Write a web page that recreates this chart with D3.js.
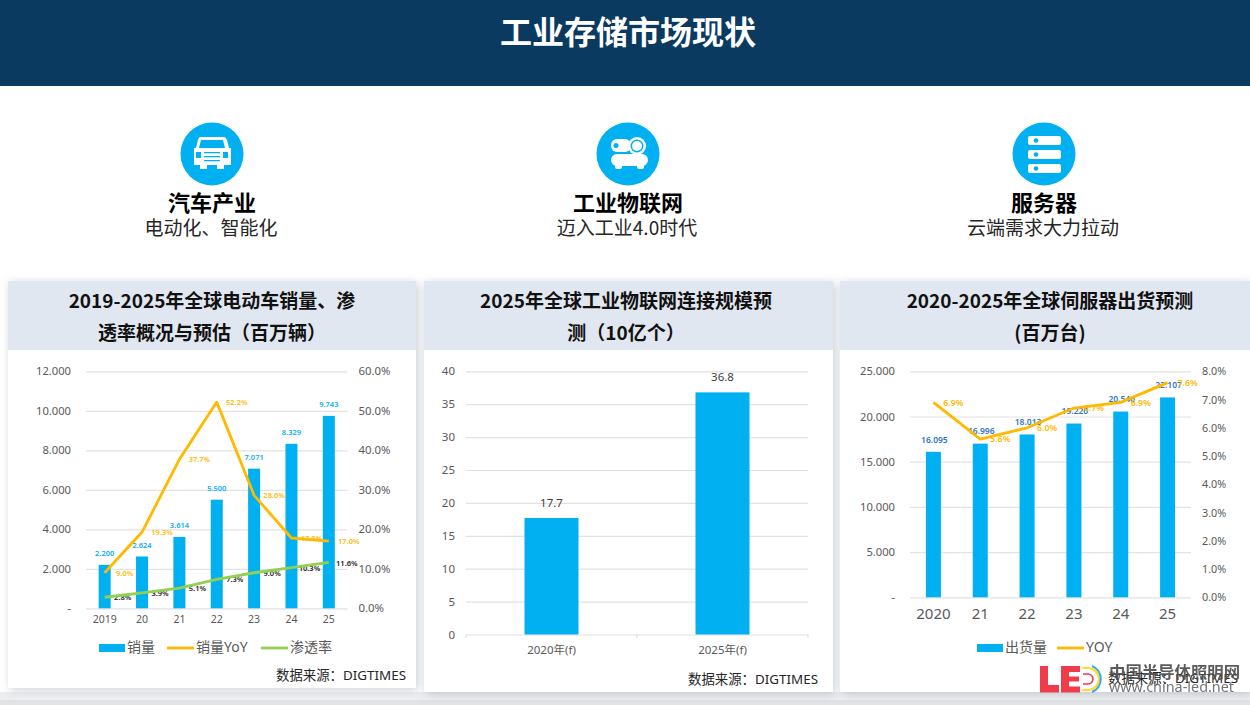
<!DOCTYPE html>
<html>
<head>
<meta charset="utf-8">
<script src="https://cdn.jsdelivr.net/npm/d3@7"></script>
<style>
  html, body { margin: 0; padding: 0; background: #fff; overflow: hidden; }
  text { font-family: "Noto Sans", "Noto Sans CJK SC", sans-serif; }
  .cjk { font-family: "Noto Sans CJK SC", "Noto Sans", sans-serif; }
</style>
</head>
<body>
<svg id="page" width="1250" height="705"></svg>
<script>
// chart 1: electric cars
const evYears = ["2019", "20", "21", "22", "23", "24", "25"];
const evSales = [2200, 2624, 3614, 5500, 7071, 8329, 9743];
const evYoy = [9.0, 19.3, 37.7, 52.2, 28.6, 17.8, 17.0];
const evShare = [2.8, 3.9, 5.1, 7.3, 9.0, 10.3, 11.6];
const evLeftTicks = [0, 2000, 4000, 6000, 8000, 10000, 12000];
const evRightTicks = [0, 10, 20, 30, 40, 50, 60];

// chart 2: industrial iot
const iotYears = ["2020年(f)", "2025年(f)"];
const iotValues = [17.7, 36.8];
const iotTicks = [0, 5, 10, 15, 20, 25, 30, 35, 40];

// chart 3: servers
const srvYears = ["2020", "21", "22", "23", "24", "25"];
const srvShip = [16095, 16996, 18013, 19220, 20546, 22107];
const srvYoy = [6.9, 5.6, 6.0, 6.7, 6.9, 7.6];
const srvLeftTicks = [0, 5000, 10000, 15000, 20000, 25000];
const srvRightTicks = [0, 1, 2, 3, 4, 5, 6, 7, 8];

const BLUE = "#00b0f0", YELLOW = "#ffb900", GREEN = "#92d050", GREY = "#595959", GRID = "#e2e2e2";

const svg = d3.select("#page");

const dotted = d3.formatLocale({ decimal: ",", thousands: ".", grouping: [3], currency: ["", ""] }).format(",.0f");
const fmtValue = d => (d === 0 ? "-" : dotted(d));
const fmtPct = d => d.toFixed(1) + "%";

// background and shadows
const defs = svg.append("defs");
const shadow = defs.append("filter").attr("id", "shadow")
  .attr("x", "-5%").attr("y", "-5%").attr("width", "110%").attr("height", "110%");
shadow.append("feDropShadow").attr("dx", 2).attr("dy", 2).attr("stdDeviation", 5)
  .attr("flood-color", "#8a93a0").attr("flood-opacity", 0.45);

svg.append("rect").attr("width", 1250).attr("height", 705).attr("fill", "#fff");
svg.append("rect").attr("y", 692).attr("width", 1250).attr("height", 13).attr("fill", "#eceef0");
svg.append("rect").attr("y", 700).attr("width", 1250).attr("height", 5).attr("fill", "#e0e2e5");
svg.append("rect").attr("width", 1250).attr("height", 86).attr("fill", "#0b3a60");
svg.append("text").attr("class", "cjk").attr("x", 628).attr("y", 44)
  .attr("text-anchor", "middle").attr("fill", "#fff")
  .attr("font-size", 32).attr("font-weight", 700).text("工业存储市场现状");

// icons and captions
const sections = [
  { cx: 212, title: "汽车产业", sub: "电动化、智能化", icon: carIcon },
  { cx: 628, title: "工业物联网", sub: "迈入工业4.0时代", icon: projectorIcon },
  { cx: 1044, title: "服务器", sub: "云端需求大力拉动", icon: serverIcon }
];
sections.forEach(s => {
  const g = svg.append("g").attr("transform", `translate(${s.cx},154)`);
  g.append("circle").attr("r", 31.5).attr("fill", BLUE);
  s.icon(g);
  svg.append("text").attr("class", "cjk").attr("x", s.cx).attr("y", 211)
    .attr("text-anchor", "middle").attr("font-size", 22).attr("font-weight", 700)
    .attr("fill", "#000").text(s.title);
  svg.append("text").attr("class", "cjk").attr("x", s.cx - 1).attr("y", 235)
    .attr("text-anchor", "middle").attr("font-size", 19).attr("fill", "#262626").text(s.sub);
});

function carIcon(g) {
  g.append("path").attr("fill", "#fff")
    .attr("d", "M-12,-17 L12,-17 Q14,-17 15,-14 L17,-6 L19,-6 L19,11 L12,11 L12,15 L5,15 L5,11 L-5,11 L-5,15 L-12,15 L-12,11 L-18,11 L-18,-6 L-16,-6 L-14,-14 Q-13,-17 -12,-17 Z");
  g.append("path").attr("fill", BLUE).attr("d", "M-11,-14 L11,-14 L13,-6 L-13,-6 Z");
  g.append("rect").attr("x", -16).attr("y", -2).attr("width", 5).attr("height", 6).attr("fill", BLUE);
  g.append("rect").attr("x", 11).attr("y", -2).attr("width", 5).attr("height", 6).attr("fill", BLUE);
  [-2, 2, 6].forEach(y => g.append("rect").attr("x", -8).attr("y", y).attr("width", 16).attr("height", 1.3).attr("fill", BLUE));
}

function projectorIcon(g) {
  g.append("rect").attr("x", -17).attr("y", -15).attr("width", 20).attr("height", 13).attr("rx", 6).attr("fill", "#fff");
  g.append("circle").attr("cx", -12).attr("cy", -8.5).attr("r", 2.5).attr("fill", BLUE);
  g.append("circle").attr("cx", 9).attr("cy", -8).attr("r", 9).attr("fill", "#fff");
  g.append("circle").attr("cx", 9).attr("cy", -8).attr("r", 6.5).attr("fill", BLUE);
  g.append("circle").attr("cx", 9).attr("cy", -8).attr("r", 5).attr("fill", "#fff");
  g.append("rect").attr("x", -17).attr("y", 0).attr("width", 37).attr("height", 12).attr("rx", 6).attr("fill", "#fff");
  g.append("rect").attr("x", -13).attr("y", 9).attr("width", 7).attr("height", 6).attr("rx", 2).attr("fill", "#fff");
  g.append("rect").attr("x", 9).attr("y", 9).attr("width", 7).attr("height", 6).attr("rx", 2).attr("fill", "#fff");
}

function serverIcon(g) {
  [-18, -4, 10].forEach(y => {
    g.append("rect").attr("x", -16).attr("y", y).attr("width", 33).attr("height", 9).attr("rx", 2).attr("fill", "#fff");
    g.append("circle").attr("cx", -8).attr("cy", y + 4.5).attr("r", 2.3).attr("fill", BLUE);
  });
}

// panels
const panels = [
  { x: 8, w: 408, bottom: 688, cx: 212, lines: ["2019-2025年全球电动车销量、渗", "透率概况与预估（百万辆）"] },
  { x: 424, w: 409, bottom: 692, cx: 626, lines: ["2025年全球工业物联网连接规模预", "测（10亿个）"] },
  { x: 840, w: 410, bottom: 692, cx: 1050, lines: ["2020-2025年全球伺服器出货预测", "(百万台)"] }
];
panels.forEach(p => {
  svg.append("rect").attr("x", p.x).attr("y", 281).attr("width", p.w).attr("height", p.bottom - 281)
    .attr("fill", "#fff").attr("filter", "url(#shadow)");
  svg.append("rect").attr("x", p.x).attr("y", 281).attr("width", p.w).attr("height", 69).attr("fill", "#e1e7f0");
  p.lines.forEach((line, i) => {
    svg.append("text").attr("class", "cjk").attr("x", p.cx).attr("y", 308 + i * 32)
      .attr("text-anchor", "middle").attr("font-size", 19).attr("font-weight", 700)
      .attr("fill", "#111").text(line);
  });
});

function styleAxis(g, size) {
  g.selectAll("text").attr("fill", GREY).attr("font-size", size);
  g.select(".domain").remove();
}

function leftAxis(y, ticks, fmt, x0, x1, size, pad) {
  const g = svg.append("g").attr("transform", `translate(${x0},0)`)
    .call(d3.axisLeft(y).tickValues(ticks).tickFormat(fmt).tickSize(-(x1 - x0)).tickPadding(pad));
  styleAxis(g, size);
  g.selectAll("line").attr("stroke", GRID).attr("stroke-width", 1.2);
}

function rightAxis(y, ticks, x1, size, pad) {
  const g = svg.append("g").attr("transform", `translate(${x1},0)`)
    .call(d3.axisRight(y).tickValues(ticks).tickFormat(fmtPct).tickSize(0).tickPadding(pad));
  styleAxis(g, size);
}

function bottomAxis(x, y0, size, pad) {
  const g = svg.append("g").attr("transform", `translate(0,${y0})`)
    .call(d3.axisBottom(x).tickSize(0).tickPadding(pad));
  styleAxis(g, size);
}

function bars(x, y, cats, vals, width) {
  svg.append("g").selectAll("rect").data(vals).join("rect")
    .attr("x", (d, i) => x(cats[i]) + x.bandwidth() / 2 - width / 2)
    .attr("y", d => y(d))
    .attr("width", width)
    .attr("height", d => y(0) - y(d))
    .attr("fill", BLUE);
}

function labels(xpos, ypos, vals, fmt, color, size, dx, dy, weight) {
  svg.append("g").selectAll("text").data(vals).join("text")
    .attr("x", (d, i) => xpos(i) + dx)
    .attr("y", d => ypos(d) + dy)
    .attr("text-anchor", "middle").attr("dominant-baseline", "middle")
    .attr("font-size", size).attr("font-weight", weight || 400).attr("fill", color).text(fmt);
}

function lineMark(xpos, y, vals, color) {
  const path = d3.line().x((d, i) => xpos(i)).y(d => y(d));
  svg.append("path").datum(vals).attr("d", path).attr("fill", "none")
    .attr("stroke", color).attr("stroke-width", 2.8).attr("stroke-linejoin", "round");
}

function legendBar(x, yc, label, size) {
  svg.append("rect").attr("x", x).attr("y", yc - 4).attr("width", 26).attr("height", 8).attr("fill", BLUE);
  legendText(x + 28, yc, label, size);
}

function legendLine(x, yc, label, color, size) {
  svg.append("line").attr("x1", x).attr("x2", x + 27).attr("y1", yc).attr("y2", yc)
    .attr("stroke", color).attr("stroke-width", 2.8);
  legendText(x + 29, yc, label, size);
}

function legendText(x, yc, label, size) {
  svg.append("text").attr("x", x).attr("y", yc).attr("dominant-baseline", "middle")
    .attr("font-size", size).attr("fill", GREY).text(label);
}

function source(xEnd, y) {
  svg.append("text").attr("x", xEnd).attr("y", y).attr("text-anchor", "end")
    .attr("font-size", 13.4).attr("fill", "#262626").text("数据来源：DIGTIMES");
}

// chart 1
{
  const x = d3.scaleBand().domain(evYears).range([86, 347.5]);
  const y = d3.scaleLinear().domain([0, 12000]).range([608.3, 371.3]);
  const yR = d3.scaleLinear().domain([0, 60]).range([608.3, 371.3]);
  const xpos = i => x(evYears[i]) + x.bandwidth() / 2;
  leftAxis(y, evLeftTicks, fmtValue, 86, 347.5, 11.2, 15);
  rightAxis(yR, evRightTicks, 347.5, 11.4, 11);
  bottomAxis(x, 608.3, 10.5, 7);
  bars(x, y, evYears, evSales, 12);
  labels(xpos, y, evSales, dotted, "#0aaef0", 7.5, 0, -11, 600);
  labels(xpos, yR, evYoy, fmtPct, YELLOW, 7.5, 20, 1, 600);
  labels(xpos, yR, evShare, fmtPct, "#1a1a1a", 7.5, 18, 1, 600);
  lineMark(xpos, yR, evYoy, YELLOW);
  lineMark(xpos, yR, evShare, GREEN);
  legendBar(99, 648, "销量", 14);
  legendLine(167, 648, "销量YoY", YELLOW, 14);
  legendLine(261, 648, "渗透率", GREEN, 14);
  source(406, 680);
}

// chart 2
{
  const x = d3.scaleBand().domain(iotYears).range([466, 808]);
  const y = d3.scaleLinear().domain([0, 40]).range([634.5, 371.3]);
  const xpos = i => x(iotYears[i]) + x.bandwidth() / 2;
  leftAxis(y, iotTicks, d => d, 466, 808, 11.5, 11);
  const base = svg.append("g").attr("stroke", "#d9d9d9").attr("stroke-width", 1);
  [466, 637, 808].forEach(t => base.append("line").attr("x1", t).attr("x2", t).attr("y1", 634.5).attr("y2", 638));
  bottomAxis(x, 634.5, 11.5, 11);
  bars(x, y, iotYears, iotValues, 54);
  labels(xpos, y, iotValues, d => d.toFixed(1), "#404040", 11.5, 0, -14);
  source(818, 684);
}

// chart 3
{
  const x = d3.scaleBand().domain(srvYears).range([910, 1191]);
  const y = d3.scaleLinear().domain([0, 25000]).range([597.3, 371.3]);
  const yR = d3.scaleLinear().domain([0, 8]).range([597.3, 371.3]);
  const xpos = i => x(srvYears[i]) + x.bandwidth() / 2;
  leftAxis(y, srvLeftTicks, fmtValue, 910, 1191, 11.2, 15);
  rightAxis(yR, srvRightTicks, 1191, 10.8, 11);
  bottomAxis(x, 597.3, 15, 11);
  bars(x, y, srvYears, srvShip, 15);
  labels(xpos, y, srvShip, dotted, "#2e75c8", 8.5, 1, -11.5, 600);
  labels(xpos, yR, srvYoy, fmtPct, YELLOW, 8.8, 20, 1, 600);
  lineMark(xpos, yR, srvYoy, YELLOW);
  legendBar(977, 648, "出货量", 14);
  legendLine(1057, 648, "YOY", YELLOW, 14);
  source(1238, 683);
}

// watermark
{
  const g = svg.append("g");
  g.append("path").attr("fill", "#ef3b4a")
    .attr("d", "M1040,666 h8 v19 h11 v7.5 h-19 Z M1061,666 h19 v6 h-11 v4.5 h10 v5 h-10 v5 h11 v6 h-19 Z");
  g.append("path").attr("fill", "none").attr("stroke", "#ffd92e").attr("stroke-width", 2.2)
    .attr("d", "M1082,668 h6 a11,11 0 0 1 0,22 h-6");
  g.append("path").attr("fill", "none").attr("stroke", "#ef3b4a").attr("stroke-width", 1.6)
    .attr("d", "M1083,674 h5 a5,5 0 0 1 0,10 h-5");
  g.append("path").attr("fill", "none").attr("stroke", "#3aa7e6").attr("stroke-width", 2)
    .attr("d", "M1092,666 a14,14 0 0 1 0,26");
  g.append("text").attr("class", "cjk").attr("x", 1109).attr("y", 678).attr("font-size", 16.4)
    .attr("font-weight", 700).attr("fill", "#4f4f4f").attr("opacity", 0.92).text("中国半导体照明网");
  g.append("text").attr("x", 1109).attr("y", 692).attr("font-size", 14.4)
    .attr("fill", "#666").attr("opacity", 0.9).text("www.china-led.net");
}
</script>
</body>
</html>
